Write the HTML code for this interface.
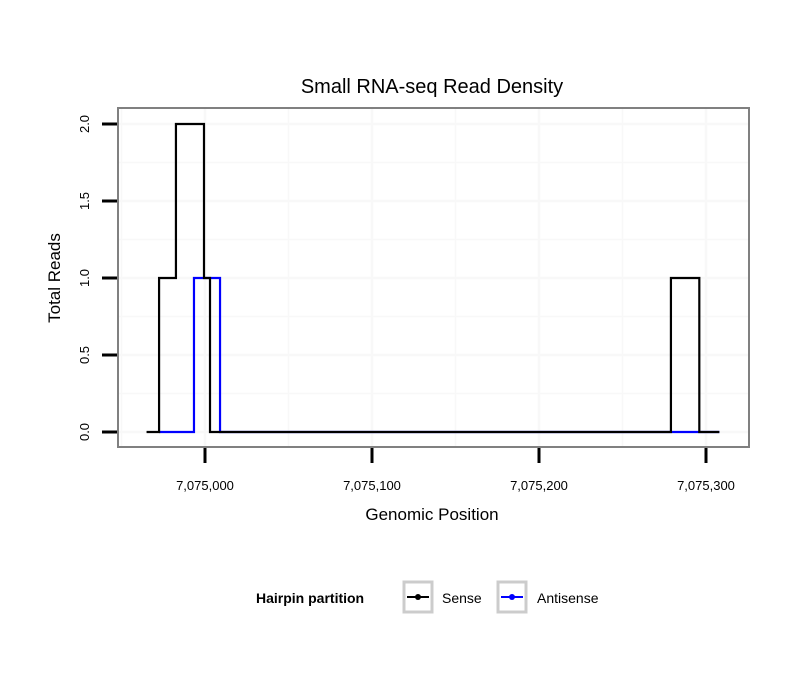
<!DOCTYPE html>
<html><head><meta charset="utf-8"><style>
body{margin:0;background:#fff;font-family:"Liberation Sans",sans-serif}
</style></head><body>
<svg width="810" height="690" xmlns="http://www.w3.org/2000/svg">
<rect width="810" height="690" fill="#fff"/>
<text x="432" y="93" font-size="20" text-anchor="middle" fill="#000">Small RNA-seq Read Density</text>
<g id="grid"></g>
<g id="series"></g>
<rect x="118" y="108" width="631" height="339" fill="none" stroke="#808080" stroke-width="2"/>
<g id="axes"></g>
<text x="432" y="520" font-size="17" text-anchor="middle">Genomic Position</text>
<text transform="translate(60,278) rotate(-90)" font-size="17" text-anchor="middle">Total Reads</text>
<g>
<text x="256" y="603" font-size="14" font-weight="bold">Hairpin partition</text>
<g>
<rect x="404" y="582" width="28" height="30" fill="none" stroke="#ccc" stroke-width="3"/>
<line x1="407" y1="597" x2="429" y2="597" stroke="#000" stroke-width="2"/>
<circle cx="418" cy="597" r="3" fill="#000"/>
<text x="442" y="603" font-size="14">Sense</text></g>
<g>
<rect x="498" y="582" width="28" height="30" fill="none" stroke="#ccc" stroke-width="3"/>
<line x1="501" y1="597" x2="523" y2="597" stroke="#00f" stroke-width="2"/>
<circle cx="512" cy="597" r="3" fill="#00f"/>
<text x="537" y="603" font-size="14">Antisense</text></g>
</g>
</svg>
<script>
const xTicks=[7075000,7075100,7075200,7075300];
const xTickLabels=["7,075,000","7,075,100","7,075,200","7,075,300"];
const yTicks=[0,0.5,1,1.5,2];
const yTickLabels=["0.0","0.5","1.0","1.5","2.0"];
const senseX=[7074965,7074972.5,7074982.6,7074999.4,7075003,7075279,7075296,7075308];
const senseY=[0,1,2,1,0,1,0,0];
const antiX=[7074972.5,7074993.4,7075009,7075308];
const antiY=[0,1,0,0];
const NS="http://www.w3.org/2000/svg";
function sx(v){return 205+(v-7075000)*1.67;}
function sy(v){return 432-v*154;}
function mk(t,a,p){const e=document.createElementNS(NS,t);for(const k in a)e.setAttribute(k,a[k]);p.appendChild(e);return e;}
const grid=document.getElementById('grid'),axes=document.getElementById('axes'),ser=document.getElementById('series');
for(let v=7074950;v<=7075350;v+=50){const x=sx(v);if(x<119||x>748)continue;
 const l=mk('line',{x1:x,x2:x,y1:109,y2:446,stroke:'#f8f8f8','stroke-width':v%100?1.5:2.5},grid);
 
 }
for(let v=0;v<=2.25;v+=0.25){const y=sy(v);if(y<109)continue;
 const l=mk('line',{x1:119,x2:748,y1:y,y2:y,stroke:'#f8f8f8','stroke-width':(v*2)%1?1.5:2.5},grid);
 
 }
xTicks.forEach((v,i)=>{const x=sx(v);
 const t=mk('line',{x1:x,x2:x,y1:448,y2:463,stroke:'#000','stroke-width':3},axes);
 
 
 const tx=mk('text',{x:x,y:490,'font-size':13,'text-anchor':'middle'},axes);tx.textContent=xTickLabels[i];
 
 });
yTicks.forEach((v,i)=>{const y=sy(v);
 const t=mk('line',{x1:102,x2:117,y1:y,y2:y,stroke:'#000','stroke-width':3},axes);
 
 
 const tx=mk('text',{transform:`translate(89,${y}) rotate(-90)`,'font-size':13,'text-anchor':'middle'},axes);tx.textContent=yTickLabels[i];
 
 });
function step(xs,ys){let d='M'+sx(xs[0])+','+sy(ys[0]);for(let i=1;i<xs.length;i++){d+='H'+sx(xs[i])+'V'+sy(ys[i]);}return d;}
const a=mk('path',{d:step(antiX,antiY),fill:'none',stroke:'#00f','stroke-width':2.2},ser);


const s=mk('path',{d:step(senseX,senseY),fill:'none',stroke:'#000','stroke-width':2.2},ser);


</script>
</body></html>
